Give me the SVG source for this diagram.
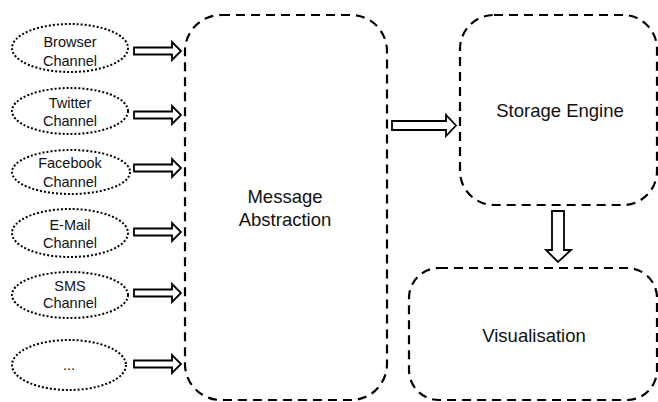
<svg xmlns="http://www.w3.org/2000/svg" width="658" height="402" viewBox="0 0 658 402">
<style>
.ch{fill:none;stroke:#000;stroke-width:2;stroke-dasharray:2 2}
.box{fill:none;stroke:#000;stroke-width:2.2;stroke-dasharray:9 6}
.arr{fill:#fff;stroke:#000;stroke-width:1.8;stroke-linejoin:miter}
.t{font-family:"Liberation Sans",Arial,sans-serif;font-size:14.5px;fill:#111;text-anchor:middle}
.tb{font-family:"Liberation Sans",Arial,sans-serif;font-size:18.5px;fill:#111;text-anchor:middle}
</style>
<defs>
<path id="sa" class="arr" d="M0,-3.5 H38 V-9 L47,0 L38,9 V3.5 H0 Z"/>
</defs>
<rect width="658" height="402" fill="#fff"/>
<g id="browser"><ellipse class="ch" cx="70" cy="48" rx="58" ry="24"/><text class="t" x="70" y="47">Browser</text><text class="t" x="70" y="66">Channel</text></g>
<g id="twitter"><ellipse class="ch" cx="70" cy="111" rx="58" ry="23"/><text class="t" x="70" y="108">Twitter</text><text class="t" x="70" y="126">Channel</text></g>
<g id="facebook"><ellipse class="ch" cx="71" cy="172" rx="59" ry="22"/><text class="t" x="70" y="168">Facebook</text><text class="t" x="70" y="187">Channel</text></g>
<g id="email"><ellipse class="ch" cx="70" cy="233" rx="58" ry="24"/><text class="t" x="70" y="230">E-Mail</text><text class="t" x="70" y="248">Channel</text></g>
<g id="sms"><ellipse class="ch" cx="70" cy="295" rx="58" ry="23"/><text class="t" x="70" y="291">SMS</text><text class="t" x="70" y="308">Channel</text></g>
<g id="more"><ellipse class="ch" cx="69" cy="365" rx="57" ry="25"/><text class="t" x="69" y="370">...</text></g>
<g id="message-abstraction"><rect class="box" x="185" y="15" width="202" height="385" rx="36" ry="36"/><text class="tb" x="285" y="203">Message</text><text class="tb" x="285" y="226">Abstraction</text></g>
<g id="storage-engine"><rect class="box" x="460" y="15" width="197" height="190" rx="34" ry="34"/><text class="tb" x="560" y="117">Storage Engine</text></g>
<g id="visualisation"><rect class="box" x="409" y="268" width="248" height="132" rx="30" ry="30"/><text class="tb" x="534" y="342">Visualisation</text></g>
<g id="connectors">
<use href="#sa" x="134" y="51"/>
<use href="#sa" x="134" y="115"/>
<use href="#sa" x="134" y="168"/>
<use href="#sa" x="134" y="232"/>
<use href="#sa" x="134" y="293"/>
<use href="#sa" x="134" y="364"/>
<path class="arr" d="M392,121 H446 V115 L456,125.5 L446,136 V130 H392 Z"/>
<path class="arr" d="M552,211 H564 V250 H571 L558,262 L546,250 H552 Z"/>
</g>
</svg>
